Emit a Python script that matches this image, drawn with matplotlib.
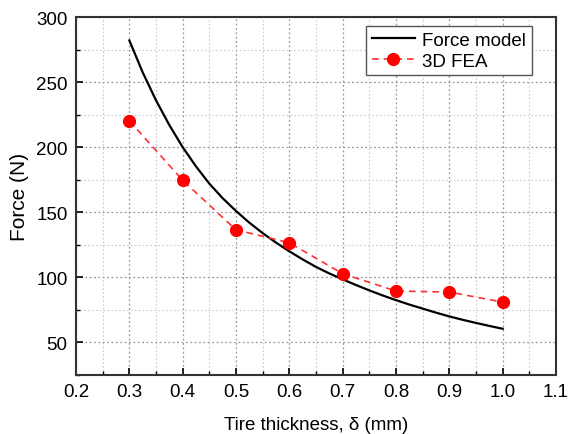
import matplotlib.pyplot as plt
from matplotlib.ticker import MultipleLocator

# Force model curve
model_x = [0.300, 0.325, 0.350, 0.375, 0.400, 0.425, 0.450, 0.475, 0.500, 0.525,
           0.550, 0.575, 0.600, 0.625, 0.650, 0.675, 0.700, 0.725, 0.750, 0.775,
           0.800, 0.825, 0.850, 0.875, 0.900, 0.925, 0.950, 0.975, 1.000]
model_y = [282, 257.5, 236, 217, 200, 185.2, 172, 160.8, 151, 142,
           134, 126.7, 120, 113.8, 108, 103, 98.5, 94.1, 90, 86.1,
           82.5, 79.1, 76, 72.9, 70, 67.4, 65, 62.7, 60.5]

# 3D FEA points
fea_x = [0.3, 0.4, 0.5, 0.6, 0.7, 0.8, 0.9, 1.0]
fea_y = [220.3, 174.6, 136.5, 126.6, 102.8, 89.5, 88.7, 81.0]

plt.rcParams['font.family'] = ['Liberation Sans', 'DejaVu Sans']

fig = plt.figure(figsize=(5.68, 4.35), dpi=100)
ax = fig.add_axes([76/568, 1 - 376/435, 480/568, 358/435])

ax.plot(model_x, model_y, color='black', lw=1.6, label='Force model', zorder=3)
ax.plot(fea_x, fea_y, color='#ff3030', ls=(0, (4, 3)), lw=1.2, marker='o',
        markersize=8.5, markerfacecolor='red', markeredgecolor='red',
        label='3D FEA', zorder=4)

ax.set_xlim(0.2, 1.1)
ax.set_ylim(25, 300)
ax.xaxis.set_minor_locator(MultipleLocator(0.05))
ax.yaxis.set_minor_locator(MultipleLocator(25))
ax.set_yticks([50, 100, 150, 200, 250, 300])
ax.set_xticks([0.2, 0.3, 0.4, 0.5, 0.6, 0.7, 0.8, 0.9, 1.0, 1.1])
ax.set_xticklabels(['0.2', '0.3', '0.4', '0.5', '0.6', '0.7', '0.8', '0.9', '1.0', '1.1'])

ax.grid(which='major', color='#999999', ls=(0, (1.5, 2)), lw=0.9)
ax.grid(which='minor', color='#cccccc', ls=(0, (1.5, 2)), lw=0.8)
ax.set_axisbelow(True)

ax.tick_params(which='both', direction='in', top=False, right=False, labelsize=13.5, pad=6)
ax.tick_params(which='major', length=5, width=1.2)
ax.tick_params(which='minor', length=3, width=1.0)
for s in ax.spines.values():
    s.set_linewidth(1.5)
    s.set_color('#333333')

ax.set_xlabel('Tire thickness, δ (mm)', fontsize=13.5, labelpad=11)
ax.set_ylabel('Force (N)', fontsize=15, labelpad=5)

leg = ax.legend(loc='upper right', bbox_to_anchor=(0.95, 0.975), borderaxespad=0,
                fontsize=13.5, fancybox=False, framealpha=1, edgecolor='#555555',
                handlelength=2.3, borderpad=0.3, labelspacing=0.2, handletextpad=0.4)
leg.get_frame().set_linewidth(1.0)

fig.savefig('out.png', dpi=100)
